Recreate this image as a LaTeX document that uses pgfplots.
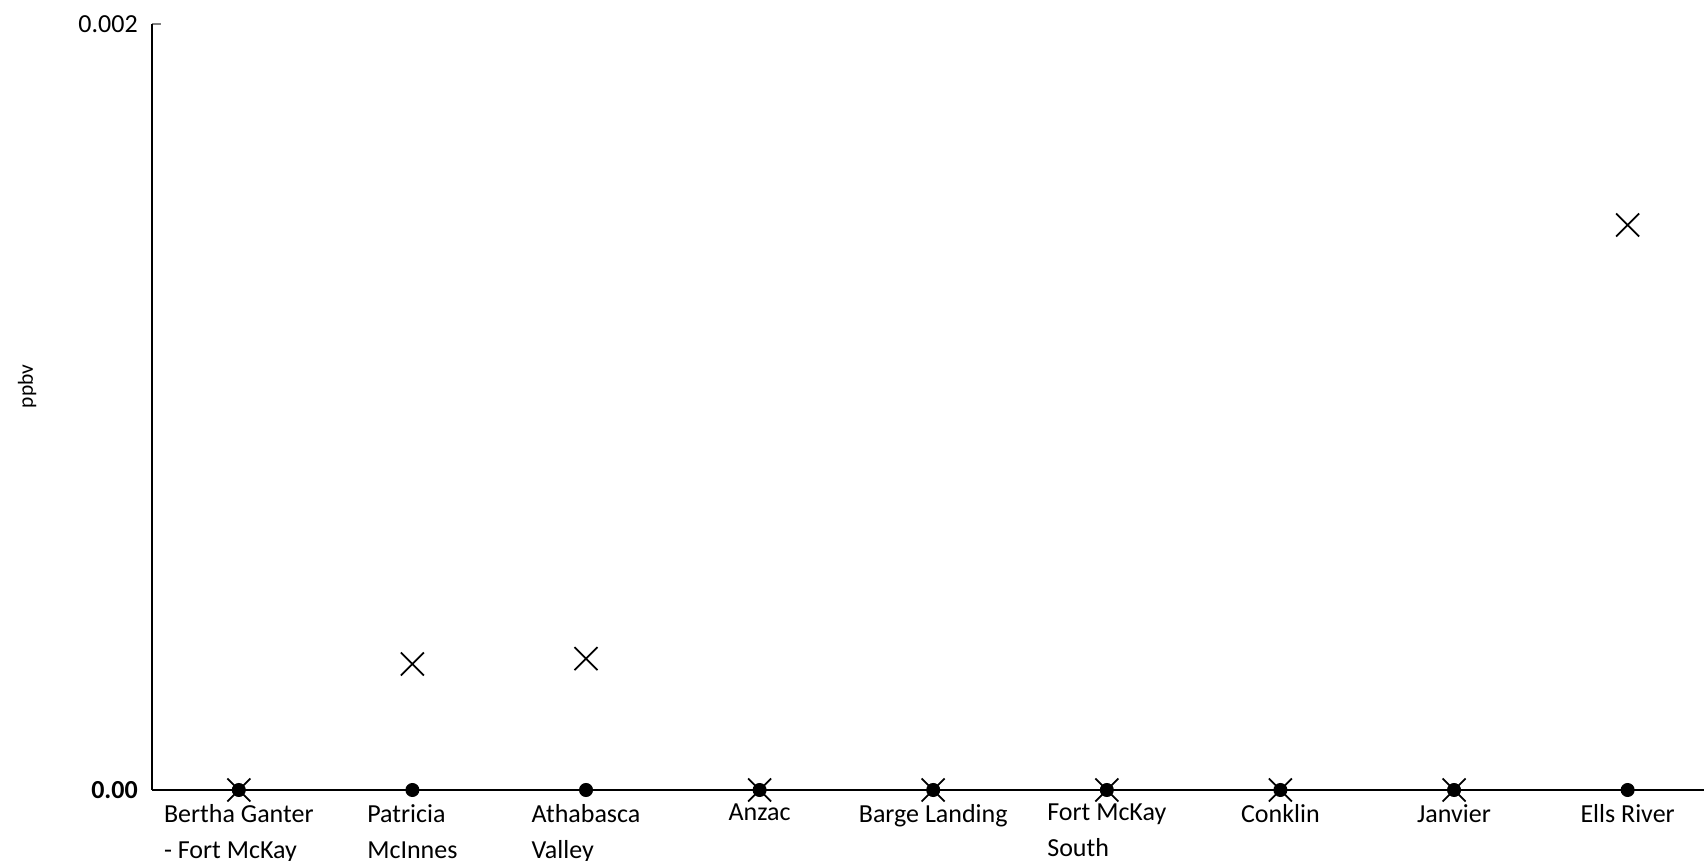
\documentclass[border=0pt]{standalone}
\usepackage{fontspec}
\setmainfont{Carlito}
\usepackage{pgfplots}
\pgfplotsset{compat=1.18}
\begin{document}
\begin{tikzpicture}
\useasboundingbox (0,0) rectangle (681.6pt,344.4pt);
\begin{axis}[
  at={(60.8pt,28.4pt)}, anchor=south west,
  scale only axis, width=620.8pt, height=306.4pt,
  xmin=-0.5, xmax=8.44, ymin=0, ymax=0.002,
  axis lines*=left,
  axis line style={line width=0.7pt},
  xtick={0,1,2,3,4,5,6,7,8},
  xticklabels={{Bertha Ganter\\- Fort McKay},{Patricia\\McInnes},{Athabasca\\Valley},Anzac,Barge Landing,{Fort McKay\\South},Conklin,Janvier,Ells River},
  xticklabel style={align=left, anchor=north, inner sep=0pt, yshift=-5.5pt, font=\fontsize{10.4}{14.4}\selectfont},
  x tick style={draw=none},
  scaled y ticks=false,
  ytick={0,0.002},
  yticklabels={\textbf{0.00},0.002},
  yticklabel style={inner sep=0pt, xshift=-5.5pt, font=\fontsize{10.4}{12}\selectfont},
  y tick style={line width=0.7pt},
  tick align=inside, major tick length=3.6pt,
  ylabel={ppbv},
  ylabel style={at={(axis description cs:-0.0805,0.527)}, anchor=center, font=\fontsize{8.6}{10}\selectfont},
  clip=false,
]
\addplot[only marks, mark=-, mark size=17pt, mark options={line width=1.1pt, black}] coordinates {
(0,0) (1,0) (2,0) (3,0) (4,0) (5,0) (6,0) (7,0) (8,0)};
\addplot[only marks, mark=*, mark size=2.6pt, mark options={black, fill=black}] coordinates {
(0,0) (1,0) (2,0) (3,0) (4,0) (5,0) (6,0) (7,0) (8,0)};
\addplot[only marks, mark=x, mark size=6.5pt, mark options={black, line width=0.7pt}] coordinates {
(0,0) (1,0.000329) (2,0.000343) (3,0) (4,0) (5,0) (6,0) (7,0) (8,0.001475)};
\end{axis}
\end{tikzpicture}
\end{document}
